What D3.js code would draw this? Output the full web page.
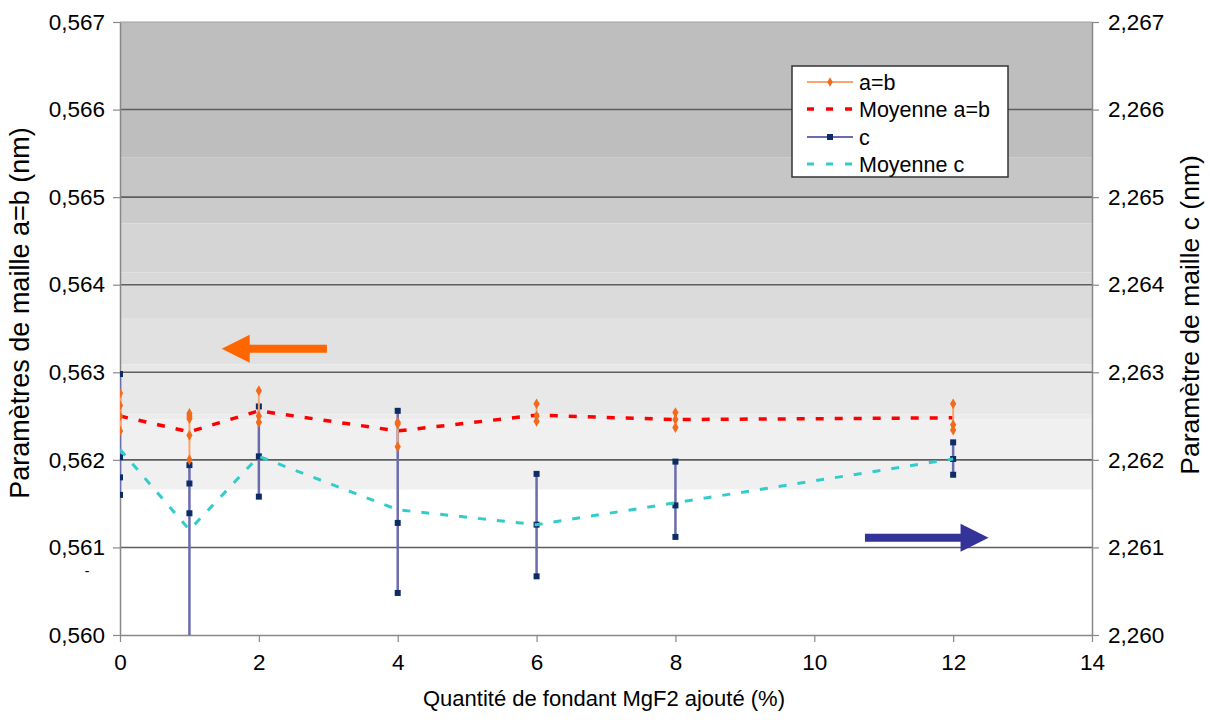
<!DOCTYPE html>
<html>
<head>
<meta charset="utf-8">
<script src="https://cdn.jsdelivr.net/npm/d3@7"></script>
<style>
  body { margin: 0; background: #fff; }
  text { font-family: "Liberation Sans", Arial, sans-serif; fill: #000; }
</style>
</head>
<body>
<div id="chart"></div>
<script>
// MgF2 quantity (%)
var xVals = [0, 1, 2, 4, 6, 8, 12];

// lattice parameter a=b (nm), several measurements per sample
var abValues = [
  [0.56276, 0.56262, 0.56250, 0.56233],
  [0.56253, 0.56250, 0.56247, 0.56228, 0.56200],
  [0.56279, 0.56250, 0.56243],
  [0.56243, 0.56241, 0.56215],
  [0.56264, 0.56250, 0.56244],
  [0.56254, 0.56246, 0.56237],
  [0.56264, 0.56240, 0.56234]
];
var abMean = [0.56250, 0.56232, 0.56256, 0.56233, 0.56251, 0.56246, 0.56248];

// lattice parameter c (nm)
var cValues = [
  [2.26298, 2.26203, 2.26180, 2.26160],
  [2.26194, 2.26173, 2.26139, 2.25974],
  [2.26261, 2.26204, 2.26158],
  [2.26256, 2.26128, 2.26048],
  [2.26184, 2.26126, 2.26067],
  [2.26198, 2.26148, 2.26112],
  [2.26220, 2.26201, 2.26183]
];
var cMean = [2.26212, 2.26120, 2.26204, 2.26143, 2.26126, 2.26151, 2.26201];

var xTicks = [0, 2, 4, 6, 8, 10, 12, 14];
var leftTicks = [0.560, 0.561, 0.562, 0.563, 0.564, 0.565, 0.566, 0.567];
var rightTicks = [2.260, 2.261, 2.262, 2.263, 2.264, 2.265, 2.266, 2.267];

var legendLabels = ["a=b", "Moyenne a=b", "c", "Moyenne c"];

var svgWidth = 1210;
var svgHeight = 720;
var margin = { top: 22, right: 118, bottom: 85, left: 120 };
var width = svgWidth - margin.left - margin.right;
var height = svgHeight - margin.top - margin.bottom;

var fr = d3.formatLocale({ decimal: ",", thousands: " ", grouping: [3], currency: ["", " €"] });
var fmt3 = fr.format(".3f");

var svg = d3.select("#chart").append("svg")
  .attr("width", svgWidth)
  .attr("height", svgHeight);

var chart = svg.append("g")
  .attr("transform", `translate(${margin.left}, ${margin.top})`);

var x = d3.scaleLinear().domain([0, 14]).range([0, width]);
var yL = d3.scaleLinear().domain([0.560, 0.567]).range([height, 0]);
var yR = d3.scaleLinear().domain([2.260, 2.267]).range([height, 0]);

// stepped grey background (upper bound of each band, colour)
var bands = [
  [0.567, "#bebebe"], [0.56545, "#c6c6c6"], [0.565, "#cbcbcb"], [0.5647, "#d5d5d5"],
  [0.56414, "#d9d9d9"], [0.56402, "#dbdbdb"], [0.56362, "#e1e1e1"], [0.56309, "#e8e8e8"],
  [0.56252, "#ececec"], [0.56246, "#f0f0f0"], [0.56166, "#ffffff"]
];
chart.selectAll("rect.band").data(bands).enter().append("rect")
  .attr("class", "band")
  .attr("x", 0)
  .attr("width", width)
  .attr("y", d => yL(d[0]))
  .attr("height", (d, i) => (i < bands.length - 1 ? yL(bands[i + 1][0]) : height) - yL(d[0]))
  .attr("fill", d => d[1]);

// gridlines
chart.selectAll("line.grid").data(leftTicks.slice(1, -1)).enter().append("line")
  .attr("x1", 0).attr("x2", width)
  .attr("y1", d => yL(d)).attr("y2", d => yL(d))
  .attr("stroke", "#5e5e5e").attr("stroke-width", 1.6);
chart.append("line")
  .attr("x1", 0).attr("x2", width).attr("y1", 0).attr("y2", 0)
  .attr("stroke", "#a0a0a0").attr("stroke-width", 1);

// axes
function styleAxis(g) {
  g.select(".domain").attr("stroke", "#888").attr("stroke-width", 1.5);
  g.selectAll(".tick line").attr("stroke", "#888").attr("stroke-width", 1.2);
  g.selectAll(".tick text").style("font-size", "22.5px").attr("fill", "#000");
}
chart.append("g")
  .call(d3.axisLeft(yL).tickValues(leftTicks).tickFormat(fmt3).tickSize(7).tickSizeOuter(0).tickPadding(8))
  .call(styleAxis);
chart.append("g")
  .attr("transform", `translate(${width}, 0)`)
  .call(d3.axisRight(yR).tickValues(rightTicks).tickFormat(fmt3).tickSize(7).tickSizeOuter(0).tickPadding(9))
  .call(styleAxis);
chart.append("g")
  .attr("transform", `translate(0, ${height})`)
  .call(d3.axisBottom(x).tickValues(xTicks).tickFormat(d3.format("d")).tickSize(7).tickSizeOuter(0).tickPadding(12))
  .call(styleAxis);

var plot = chart.append("g");
svg.append("clipPath").attr("id", "clip").append("rect")
  .attr("width", width).attr("height", height);
plot.attr("clip-path", "url(#clip)");

// mean lines
var meanLine = d3.line().x(d => x(d[0])).y(d => d[1]);
plot.append("path")
  .datum(xVals.map((v, i) => [v, yL(abMean[i])]))
  .attr("d", meanLine)
  .attr("fill", "none").attr("stroke", "#ff0000").attr("stroke-width", 3.5)
  .attr("stroke-dasharray", "8,11");

// c series: high-low lines with square markers
var cGroups = plot.selectAll("g.cser").data(cValues).enter().append("g");
cGroups.append("line")
  .attr("x1", (d, i) => x(xVals[i])).attr("x2", (d, i) => x(xVals[i]))
  .attr("y1", d => yR(d3.max(d))).attr("y2", d => yR(d3.min(d)))
  .attr("stroke", "#6b6bb0").attr("stroke-width", 2.5);

// a=b series
var abGroups = plot.selectAll("g.abser").data(abValues).enter().append("g");
abGroups.append("line")
  .attr("x1", (d, i) => x(xVals[i])).attr("x2", (d, i) => x(xVals[i]))
  .attr("y1", d => yL(d3.max(d))).attr("y2", d => yL(d3.min(d)))
  .attr("stroke", "#fba56e").attr("stroke-width", 2);
abGroups.each(function(d, i) {
  d3.select(this).selectAll("path").data(d).enter().append("path")
    .attr("d", d3.symbol(d3.symbolDiamond, 34))
    .attr("transform", v => `translate(${x(xVals[i])}, ${yL(v)})`)
    .attr("fill", "#f26a1b");
});

plot.append("path")
  .datum(xVals.map((v, i) => [v, yR(cMean[i])]))
  .attr("d", meanLine)
  .attr("fill", "none").attr("stroke", "#33cccc").attr("stroke-width", 3)
  .attr("stroke-dasharray", "8,11");

cGroups.each(function(d, i) {
  d3.select(this).selectAll("rect").data(d).enter().append("rect")
    .attr("x", x(xVals[i]) - 3)
    .attr("y", v => yR(v) - 3)
    .attr("width", 6).attr("height", 6)
    .attr("fill", "#0d2c66");
});

// arrows showing which axis each series uses
function arrow(x0, x1, yv, color) {
  var px0 = x(x0), px1 = x(x1), py = yv;
  var dir = px1 > px0 ? 1 : -1;
  var headLen = 28, half = 14, shaft = 4;
  var hb = px1 - dir * headLen;
  chart.append("path")
    .attr("d", `M${px0},${py - shaft} L${hb},${py - shaft} L${hb},${py - half} L${px1},${py} L${hb},${py + half} L${hb},${py + shaft} L${px0},${py + shaft} Z`)
    .attr("fill", color);
}
arrow(2.98, 1.465, yL(0.56327), "#ff6600");
arrow(10.73, 12.51, yR(2.26111), "#333399");

// legend
var legend = chart.append("g").attr("transform", `translate(${672}, ${44})`);
legend.append("rect")
  .attr("width", 216).attr("height", 111)
  .attr("fill", "#fff").attr("stroke", "#333").attr("stroke-width", 1.5);
var rowsY = [16, 43, 71, 98];
var items = legend.selectAll("g.item").data(legendLabels).enter().append("g")
  .attr("transform", (d, i) => `translate(0, ${rowsY[i]})`);
items.append("text")
  .attr("x", 67).attr("y", 0).attr("dy", "0.35em")
  .style("font-size", "21.5px")
  .text(d => d);
var li = items.nodes();
d3.select(li[0]).append("line").attr("x1", 15).attr("x2", 61).attr("stroke", "#fba56e").attr("stroke-width", 2);
d3.select(li[0]).append("path").attr("d", d3.symbol(d3.symbolDiamond, 26)).attr("transform", "translate(38,0)").attr("fill", "#f26a1b");
d3.select(li[1]).append("line").attr("x1", 15).attr("x2", 61).attr("stroke", "#ff0000").attr("stroke-width", 3.5).attr("stroke-dasharray", "7,12");
d3.select(li[2]).append("line").attr("x1", 15).attr("x2", 61).attr("stroke", "#6b6bb0").attr("stroke-width", 2);
d3.select(li[2]).append("rect").attr("x", 35).attr("y", -3).attr("width", 6).attr("height", 6).attr("fill", "#0d2c66");
d3.select(li[3]).append("line").attr("x1", 15).attr("x2", 61).attr("stroke", "#33cccc").attr("stroke-width", 3).attr("stroke-dasharray", "7,12");

// axis titles
svg.append("text")
  .attr("x", margin.left + width / 2 - 2).attr("y", 706)
  .attr("text-anchor", "middle")
  .style("font-size", "22px")
  .text("Quantité de fondant MgF2 ajouté (%)");
svg.append("text")
  .attr("transform", "translate(29, 313) rotate(-90)")
  .attr("text-anchor", "middle")
  .style("font-size", "27px")
  .text("Paramètres de maille a=b (nm)");
svg.append("text")
  .attr("transform", "translate(1199, 315) rotate(-90)")
  .attr("text-anchor", "middle")
  .style("font-size", "26.5px")
  .text("Paramètre de maille c (nm)");
svg.append("text")
  .attr("x", 87).attr("y", 576)
  .attr("text-anchor", "middle")
  .style("font-size", "14px")
  .attr("fill", "#444")
  .text("-");
</script>
</body>
</html>
